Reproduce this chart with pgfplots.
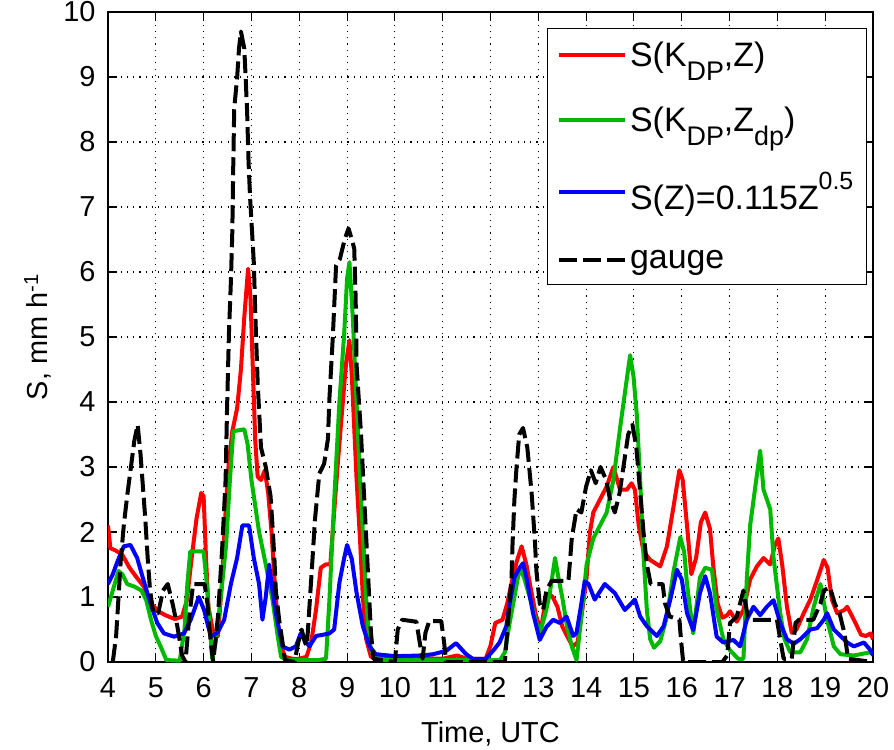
\documentclass[border=0pt]{standalone}
\usepackage{pgfplots}
\usepackage{pgfplotstable}
\pgfplotsset{compat=1.18}
\usepackage{fontspec}
\setmainfont{Liberation Sans}

\definecolor{mred}{RGB}{255,0,0}
\definecolor{mgreen}{RGB}{0,185,0}
\definecolor{mblue}{RGB}{0,0,255}

\newcommand{\lsub}[1]{\raisebox{-0.42em}{\fontsize{27}{27}\selectfont #1}}
\newcommand{\lsup}[1]{\raisebox{0.6em}{\fontsize{25}{25}\selectfont #1}}

% S(KDP,Z)
\pgfplotstableread{
t S
4.00 2.10
4.05 1.75
4.15 1.72
4.30 1.65
4.45 1.45
4.60 1.30
4.75 1.16
4.90 0.90
5.05 0.78
5.20 0.72
5.40 0.66
5.55 0.70
5.65 0.95
5.75 1.60
5.85 2.20
5.95 2.60
6.00 2.55
6.05 1.60
6.10 0.85
6.20 0.45
6.30 0.40
6.38 1.20
6.45 2.20
6.52 3.00
6.60 3.55
6.70 3.90
6.78 4.50
6.85 5.30
6.93 6.05
6.98 5.60
7.03 4.50
7.08 3.40
7.13 2.85
7.20 2.80
7.28 2.95
7.35 2.60
7.42 2.00
7.48 1.30
7.54 0.70
7.60 0.30
7.70 0.08
7.85 0.05
8.00 0.05
8.15 0.08
8.25 0.30
8.35 0.80
8.45 1.45
8.55 1.50
8.65 1.50
8.72 2.20
8.80 3.00
8.90 3.90
8.98 4.60
9.05 4.95
9.10 4.40
9.15 3.60
9.20 2.80
9.27 1.90
9.33 1.00
9.40 0.35
9.50 0.08
9.70 0.06
10.00 0.06
10.20 0.08
10.50 0.06
11.00 0.05
11.30 0.10
11.50 0.05
11.90 0.05
12.00 0.25
12.10 0.60
12.25 0.65
12.35 0.90
12.45 1.25
12.55 1.55
12.65 1.78
12.75 1.50
12.85 1.10
12.95 0.72
13.05 0.48
13.12 0.80
13.22 1.05
13.30 1.00
13.40 0.85
13.50 0.55
13.60 0.40
13.72 0.24
13.82 0.30
13.92 0.80
14.01 1.30
14.08 2.00
14.15 2.30
14.29 2.50
14.43 2.70
14.57 3.00
14.65 2.80
14.71 2.65
14.85 2.65
14.95 2.75
15.02 2.65
15.10 2.10
15.20 1.70
15.34 1.57
15.55 1.47
15.69 1.78
15.83 2.40
15.95 2.95
16.02 2.80
16.11 2.10
16.20 1.35
16.30 1.60
16.40 2.15
16.49 2.30
16.59 2.05
16.66 1.47
16.75 0.90
16.85 0.68
16.95 0.72
17.01 0.78
17.15 0.62
17.29 0.80
17.43 1.27
17.57 1.47
17.71 1.60
17.85 1.50
17.95 1.80
18.02 1.90
18.10 1.50
18.20 0.85
18.30 0.45
18.40 0.50
18.55 0.75
18.69 0.96
18.85 1.30
18.97 1.57
19.05 1.45
19.14 0.96
19.25 0.75
19.40 0.80
19.46 0.85
19.60 0.65
19.75 0.42
19.85 0.40
19.95 0.44
20.00 0.35
}\kdpz

% S(KDP,Zdp)
\pgfplotstableread{
t S
4.00 0.85
4.10 1.10
4.22 1.40
4.30 1.35
4.40 1.20
4.55 1.16
4.70 1.10
4.80 0.95
4.90 0.65
5.00 0.40
5.10 0.24
5.22 0.03
5.50 0.02
5.60 0.50
5.66 1.20
5.72 1.70
6.00 1.70
6.06 1.25
6.12 0.65
6.18 0.05
6.25 0.30
6.36 1.00
6.47 1.80
6.55 2.80
6.62 3.55
6.85 3.58
6.92 3.35
7.00 2.80
7.10 2.30
7.16 2.00
7.30 1.50
7.44 0.96
7.55 0.40
7.62 0.08
7.75 0.03
8.00 0.03
8.40 0.03
8.56 0.05
8.63 0.94
8.73 2.48
8.84 4.00
8.94 5.05
9.00 5.90
9.05 6.15
9.12 5.30
9.18 4.30
9.26 3.00
9.33 2.00
9.40 0.97
9.47 0.30
9.55 0.08
9.80 0.03
12.20 0.03
12.30 0.15
12.40 0.60
12.50 1.00
12.61 1.45
12.70 1.30
12.82 1.00
12.96 0.60
13.03 0.44
13.15 0.75
13.24 1.06
13.35 1.60
13.42 1.30
13.50 1.00
13.60 0.55
13.70 0.24
13.80 0.03
13.90 0.70
14.01 1.50
14.15 1.90
14.29 2.10
14.43 2.30
14.57 2.80
14.71 3.60
14.85 4.35
14.92 4.72
14.99 4.40
15.06 3.80
15.13 2.80
15.20 1.65
15.27 0.80
15.34 0.35
15.42 0.22
15.55 0.32
15.69 0.70
15.83 1.40
15.97 1.92
16.05 1.70
16.11 1.20
16.24 0.44
16.38 1.30
16.49 1.45
16.63 1.42
16.73 0.80
16.87 0.35
17.01 0.18
17.18 0.05
17.29 0.05
17.36 1.27
17.43 2.10
17.53 2.65
17.64 3.25
17.71 2.65
17.85 2.35
17.92 1.60
18.06 0.75
18.15 0.35
18.27 0.15
18.48 0.15
18.62 0.35
18.76 0.85
18.90 1.20
19.04 0.65
19.18 0.24
19.32 0.12
19.60 0.10
19.95 0.15
20.00 0.12
}\kdpzdp

% S(Z)=0.115Z^0.5
\pgfplotstableread{
t S
4.00 1.20
4.10 1.35
4.20 1.55
4.33 1.78
4.47 1.80
4.61 1.60
4.75 1.24
4.89 0.90
5.03 0.60
5.17 0.44
5.38 0.39
5.59 0.44
5.73 0.65
5.90 1.00
6.01 0.80
6.15 0.39
6.29 0.45
6.43 0.65
6.57 1.20
6.70 1.60
6.81 2.10
6.95 2.10
7.05 1.60
7.16 1.20
7.23 0.65
7.30 1.00
7.37 1.50
7.44 1.10
7.51 0.75
7.65 0.24
7.79 0.19
7.93 0.24
8.03 0.44
8.10 0.35
8.21 0.24
8.35 0.40
8.50 0.42
8.63 0.44
8.73 0.50
8.84 1.22
8.94 1.60
9.00 1.80
9.10 1.58
9.20 1.06
9.33 0.55
9.47 0.24
9.60 0.12
10.00 0.09
10.57 0.10
10.80 0.12
11.07 0.17
11.28 0.29
11.49 0.12
11.63 0.05
11.90 0.05
12.05 0.17
12.19 0.30
12.33 0.55
12.40 0.90
12.50 1.30
12.61 1.45
12.68 1.52
12.75 1.30
12.89 0.75
13.03 0.34
13.17 0.54
13.31 0.65
13.45 0.60
13.59 0.70
13.73 0.40
13.80 0.45
13.90 0.90
13.97 1.24
14.05 1.20
14.18 0.96
14.39 1.20
14.60 1.06
14.81 0.80
15.02 0.96
15.13 0.70
15.27 0.55
15.48 0.40
15.62 0.55
15.76 0.96
15.90 1.42
16.00 1.27
16.11 0.75
16.24 0.49
16.38 1.06
16.49 1.32
16.59 1.06
16.73 0.39
16.87 0.30
17.08 0.34
17.22 0.24
17.36 0.65
17.50 0.85
17.64 0.72
17.78 0.85
17.92 0.95
18.06 0.60
18.20 0.35
18.34 0.28
18.48 0.35
18.69 0.50
18.83 0.52
18.97 0.65
19.04 0.75
19.18 0.50
19.32 0.40
19.46 0.30
19.60 0.24
19.81 0.30
19.95 0.18
20.00 0.10
}\zrel

% rain gauge
\pgfplotstableread{
t S
4.10 0.00
4.17 0.40
4.22 1.00
4.27 1.60
4.33 2.10
4.40 2.55
4.48 3.00
4.55 3.40
4.62 3.65
4.68 3.20
4.73 2.70
4.78 2.20
4.83 1.60
4.88 1.10
4.95 0.75
5.05 0.75
5.15 1.10
5.25 1.20
5.35 0.90
5.45 0.55
5.55 0.10
5.62 0.00
5.70 0.70
5.78 1.20
6.02 1.20
6.08 0.90
6.15 0.30
6.20 0.00
6.30 0.70
6.39 1.78
6.46 2.81
6.49 3.90
6.53 5.07
6.57 5.85
6.60 6.62
6.62 7.65
6.64 8.52
6.70 8.98
6.74 9.44
6.78 9.70
6.85 9.44
6.88 8.98
6.91 8.46
6.94 7.69
6.97 7.17
7.05 6.14
7.08 5.37
7.13 4.30
7.20 3.30
7.30 3.00
7.40 2.55
7.44 2.10
7.48 1.60
7.51 1.10
7.58 0.65
7.65 0.30
7.70 0.03
7.90 0.00
7.98 0.30
8.05 0.50
8.12 0.30
8.16 0.25
8.20 0.70
8.27 1.50
8.33 2.20
8.42 2.90
8.52 3.05
8.60 3.43
8.63 4.04
8.70 4.97
8.77 6.10
8.85 6.20
8.95 6.50
9.03 6.67
9.10 6.50
9.15 6.36
9.18 5.58
9.20 4.56
9.29 3.53
9.36 2.50
9.43 1.48
9.50 0.45
9.55 0.05
10.00 0.00
10.06 0.50
10.15 0.65
10.45 0.62
10.52 0.30
10.58 0.05
10.64 0.45
10.72 0.63
10.97 0.63
11.03 0.30
11.07 0.00
12.30 0.00
12.37 0.65
12.44 1.30
12.46 1.80
12.50 2.50
12.54 2.95
12.60 3.50
12.68 3.60
12.77 3.30
12.86 2.60
12.93 1.85
12.96 1.40
13.03 0.90
13.10 0.80
13.17 1.10
13.28 1.25
13.63 1.25
13.70 1.90
13.80 2.35
13.90 2.30
14.00 2.70
14.10 2.95
14.20 2.75
14.30 3.00
14.42 2.80
14.50 2.50
14.60 2.30
14.70 2.60
14.80 3.10
14.88 3.50
14.97 3.65
15.05 3.30
15.12 2.70
15.20 2.00
15.27 1.50
15.35 1.20
15.60 1.20
15.65 0.90
15.75 0.70
15.95 0.65
15.99 0.30
16.03 0.00
16.85 0.00
16.95 0.10
17.01 0.60
17.15 0.70
17.29 1.10
17.38 0.70
17.45 0.65
17.99 0.65
18.06 0.35
18.13 0.05
18.30 0.05
18.38 0.60
18.45 0.65
18.75 0.65
18.90 0.90
18.97 1.10
19.10 1.15
19.20 0.90
19.30 0.75
19.40 0.45
19.48 0.05
20.00 0.00
}\gauge

\begin{document}
\begin{tikzpicture}
\begin{axis}[
  scale only axis,
  width=765bp, height=650bp,
  xmin=4, xmax=20, ymin=0, ymax=10,
  xtick={4,5,...,20}, ytick={0,1,...,10},
  xtick pos=both, ytick pos=both,
  tick align=inside,
  major tick length=9bp,
  every tick/.style={black, line width=1.1bp},
  axis line style={black, line width=1.1bp},
  grid=major,
  major grid style={black, line width=1.1bp, dash pattern=on 1.1bp off 5.2bp},
  /pgf/number format/assume math mode=true,
  tick label style={font=\fontsize{29}{34}\selectfont},
  xticklabel style={yshift=-12bp},
  yticklabel style={xshift=-9bp},
  xlabel={Time, UTC},
  ylabel={S, mm h\textsuperscript{-1}},
  every axis x label/.style={at={(axis description cs:0.5,0)}, anchor=center,
    yshift=-72bp, font=\fontsize{29}{34}\selectfont},
  every axis y label/.style={at={(axis description cs:-0.092,0.5)}, anchor=center,
    rotate=90, font=\fontsize{29}{34}\selectfont},
  legend style={at={(axis description cs:0.992,0.976)}, anchor=north east,
    draw=black, line width=1.1bp, font=\fontsize{34}{39}\selectfont,
    inner xsep=10bp, inner ysep=11bp, row sep=33bp,
    nodes={inner sep=3bp}},
  legend cell align=left,
  legend image code/.code={\draw[#1] (0bp,0bp) -- (66bp,0bp);},
  every axis plot/.append style={line width=4bp, line join=round},
]
\addplot[mred] table[x=t, y=S] {\kdpz};
\addlegendentry{S(K\lsub{DP},Z)}
\addplot[mgreen] table[x=t, y=S] {\kdpzdp};
\addlegendentry{S(K\lsub{DP},Z\lsub{dp})}
\addplot[mblue] table[x=t, y=S] {\zrel};
\addlegendentry{S(Z)=0.115Z\lsup{0.5}}
\addplot[black, dash pattern=on 18bp off 6bp] table[x=t, y=S] {\gauge};
\addlegendentry{gauge}
\end{axis}
\pgfresetboundingbox
\path[use as bounding box] (current axis.south west) ++(-108bp,-88bp) rectangle ++(894bp,750bp);
\end{tikzpicture}
\end{document}
